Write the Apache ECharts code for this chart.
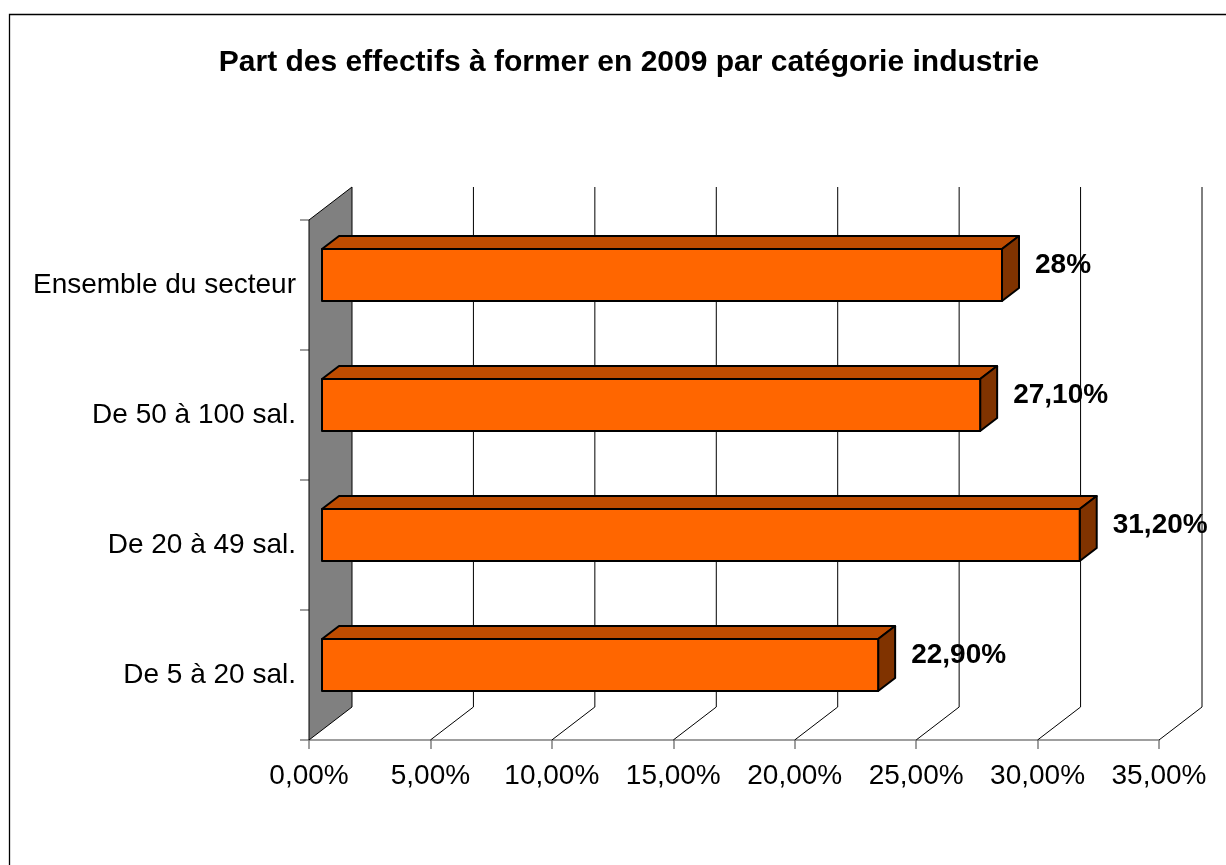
<!DOCTYPE html>
<html>
<head>
<meta charset="utf-8">
<script src="https://cdn.jsdelivr.net/npm/echarts@6/dist/echarts.min.js"></script>
<style>
html,body{margin:0;padding:0;background:#fff;}
#chart{width:1226px;height:865px;}
</style>
</head>
<body>
<div id="chart"></div>
<script>
const titleText = 'Part des effectifs à former en 2009 par catégorie industrie';
const categories = ['De 5 à 20 sal.', 'De 20 à 49 sal.', 'De 50 à 100 sal.', 'Ensemble du secteur'];
const values = [22.9, 31.2, 27.1, 28];
const xTicks = [0, 5, 10, 15, 20, 25, 30, 35];

const FONT = "'Liberation Sans', Arial, sans-serif";
const DEPTH_X = 43, DEPTH_Y = -33;       // back-wall offset
const FACE_X = 13, FACE_Y = -10;         // bar front face depth
const BACK_X = 30, BACK_Y = -23;         // bar back face depth

function fmtPct(v) {
  if (Number.isInteger(v)) return v + '%';
  return v.toFixed(2).replace('.', ',') + '%';
}

const chart = echarts.init(document.getElementById('chart'), null, {renderer: 'canvas'});

const option = {
  backgroundColor: '#ffffff',
  animation: false,
  title: {
    text: titleText,
    left: 624,
    top: 43,
    textAlign: 'center',
    textStyle: {fontFamily: FONT, fontSize: 30, fontWeight: 'bold', color: '#000'}
  },
  graphic: [{
    type: 'rect',
    shape: {x: 9.5, y: 14.5, width: 1400, height: 1000},
    style: {fill: 'none', stroke: '#000', lineWidth: 1.3},
    silent: true
  }],
  grid: {left: 309, right: 67, top: 220, bottom: 125, containLabel: false},
  xAxis: {
    type: 'value',
    min: 0, max: 35, interval: 5,
    axisLine: {show: true, lineStyle: {color: '#808080', width: 1.5}},
    axisTick: {show: true, length: 9, lineStyle: {color: '#808080', width: 1.5}},
    axisLabel: {
      margin: 22,
      fontFamily: FONT, fontSize: 28, color: '#000',
      formatter: v => v.toFixed(2).replace('.', ',') + '%'
    },
    splitLine: {show: false}
  },
  yAxis: {
    type: 'category',
    data: categories,
    axisLine: {show: false},
    axisTick: {show: true, length: 9, lineStyle: {color: '#808080', width: 1.5}},
    axisLabel: {margin: 13, fontFamily: FONT, fontSize: 28, color: '#000'},
    splitLine: {show: false}
  },
  series: [
    {
      type: 'custom',
      name: 'walls',
      silent: true,
      z: 1,
      data: xTicks.map(t => [t, 0]),
      encode: {x: 0, y: 1},
      renderItem: function (params, api) {
        const cs = params.coordSys;
        const x = api.coord([api.value(0), 0])[0];
        const top = cs.y, bot = cs.y + cs.height;
        if (api.value(0) === 0) {
          return {
            type: 'polygon',
            shape: {points: [[x, top], [x + DEPTH_X, top + DEPTH_Y], [x + DEPTH_X, bot + DEPTH_Y], [x, bot]]},
            style: {fill: '#808080', stroke: '#000', lineWidth: 1}
          };
        }
        return {
          type: 'group',
          children: [
            {type: 'line', shape: {x1: x, y1: bot, x2: x + DEPTH_X, y2: bot + DEPTH_Y},
             style: {stroke: '#000', lineWidth: 1}},
            {type: 'line', shape: {x1: x + DEPTH_X, y1: bot + DEPTH_Y, x2: x + DEPTH_X, y2: top + DEPTH_Y},
             style: {stroke: '#000', lineWidth: 1}}
          ]
        };
      }
    },
    {
      type: 'custom',
      name: 'bars',
      z: 3,
      data: values.map((v, i) => [v, i]),
      encode: {x: 0, y: 1},
      renderItem: function (params, api) {
        const v = api.value(0);
        const p0 = api.coord([0, api.value(1)]);
        const p1 = api.coord([v, api.value(1)]);
        const band = api.size([0, 1])[1];
        const h = band * 0.4;
        const x0 = p0[0] + FACE_X, x1 = p1[0] + FACE_X;
        const yc = p0[1] + FACE_Y;
        const yt = yc - h / 2, yb = yc + h / 2;
        const dx = BACK_X - FACE_X, dy = BACK_Y - FACE_Y;
        const stroke = {stroke: '#000', lineWidth: 2, lineJoin: 'round'};
        return {
          type: 'group',
          children: [
            {type: 'polygon', shape: {points: [[x0, yt], [x1, yt], [x1 + dx, yt + dy], [x0 + dx, yt + dy]]},
             style: Object.assign({fill: '#BF4C00'}, stroke)},
            {type: 'polygon', shape: {points: [[x1, yt], [x1 + dx, yt + dy], [x1 + dx, yb + dy], [x1, yb]]},
             style: Object.assign({fill: '#803300'}, stroke)},
            {type: 'rect', shape: {x: x0, y: yt, width: x1 - x0, height: h},
             style: Object.assign({fill: '#FF6600'}, stroke)},
            {type: 'text', x: p1[0] + 46, y: p0[1] - 20,
             style: {text: fmtPct(v), fontFamily: FONT, fontSize: 28, fontWeight: 'bold', fill: '#000',
                     textAlign: 'left', textVerticalAlign: 'middle'}}
          ]
        };
      }
    }
  ]
};
chart.setOption(option);
</script>
</body>
</html>
